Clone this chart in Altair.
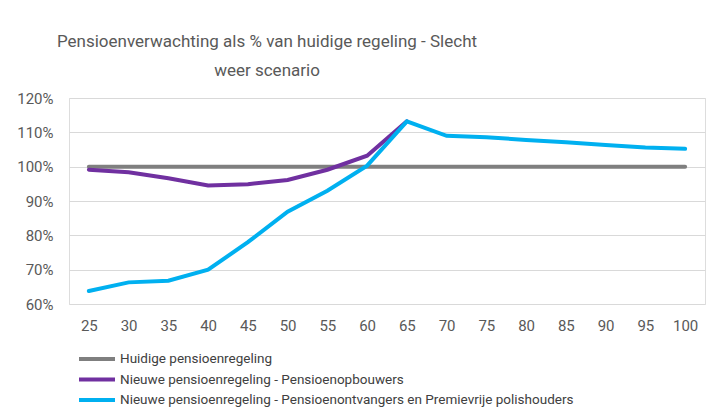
import altair as alt
import pandas as pd

ages = [25, 30, 35, 40, 45, 50, 55, 60, 65, 70, 75, 80, 85, 90, 95, 100]
huidig = [1.00] * 16
opbouwers = [0.991, 0.984, 0.966, 0.945, 0.949, 0.961, 0.991, 1.032, 1.132]
ontvangers = [0.638, 0.663, 0.668, 0.700, 0.780, 0.869, 0.930, 1.003, 1.132,
              1.090, 1.086, 1.078, 1.071, 1.063, 1.056, 1.052]

series_names = [
    "Huidige pensioenregeling",
    "Nieuwe pensioenregeling - Pensioenopbouwers",
    "Nieuwe pensioenregeling - Pensioenontvangers en Premievrije polishouders",
]
colors = ["#7F7F7F", "#7030A0", "#00B0F0"]

rows = []
for name, vals in zip(series_names, [huidig, opbouwers, ontvangers]):
    for a, v in zip(ages, vals):
        rows.append({"Leeftijd": a, "Waarde": v, "Reeks": name})
df = pd.DataFrame(rows)

FONT = "Roboto, sans-serif"

chart = alt.Chart(df).mark_line(strokeWidth=4, strokeCap="round").encode(
    x=alt.X("Leeftijd:Q",
            scale=alt.Scale(domain=[22.5, 102.5], nice=False, zero=False),
            axis=alt.Axis(values=ages, format="d", grid=False, ticks=False, domain=False,
                          labelPadding=14, labelFontSize=15, labelColor="#595959",
                          labelFont=FONT, title=None)),
    y=alt.Y("Waarde:Q",
            scale=alt.Scale(domain=[0.6, 1.2], nice=False, zero=False),
            axis=alt.Axis(values=[0.6, 0.7, 0.8, 0.9, 1.0, 1.1, 1.2], format=".0%",
                          grid=True, gridColor="#D9D9D9", gridWidth=1, ticks=False, domain=False,
                          labelPadding=16, labelFontSize=15, labelColor="#595959",
                          labelFont=FONT, title=None)),
    color=alt.Color("Reeks:N",
                    scale=alt.Scale(domain=series_names, range=colors),
                    sort=series_names,
                    legend=alt.Legend(orient="none", legendX=8, legendY=253, direction="vertical",
                                      title=None, symbolType="stroke", symbolSize=1296,
                                      symbolStrokeWidth=4, labelFontSize=13.5, labelColor="#404040",
                                      labelFont=FONT, labelOffset=3, rowPadding=4.5,
                                      clipHeight=16, labelLimit=700)),
    order=alt.Order("Leeftijd:Q"),
).properties(
    width=636, height=206,
    padding={"left": 61, "top": 90, "right": 1, "bottom": 104},
    autosize=alt.AutoSizeParams(type="none"),
    title=alt.TitleParams(
        text=["Pensioenverwachting als % van huidige regeling - Slecht", "weer scenario"],
        anchor="middle", dx=-120, fontSize=17, lineHeight=29,
        font=FONT, fontWeight="normal", color="#595959", offset=11),
).configure_view(stroke=None).configure(background="white")

chart.save("out.html", embed_options={"renderer": "svg", "actions": False})
